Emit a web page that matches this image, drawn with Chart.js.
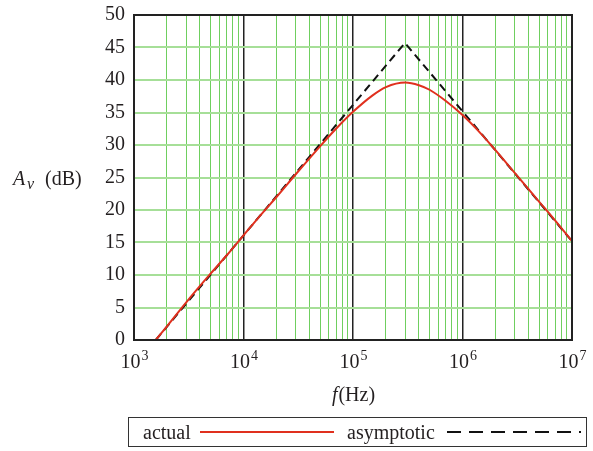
<!DOCTYPE html>
<html>
<head>
<meta charset="utf-8">
<script src="https://cdn.jsdelivr.net/npm/chart.js@4.4.1/dist/chart.umd.min.js"></script>
<style>
  body { margin: 0; background: #fff; }
  #wrap { position: relative; width: 593px; height: 451px; }
  #legend {
    position: absolute; left: 128px; top: 417px; width: 459px; height: 30px;
    border: 1px solid #333; box-sizing: border-box;
    font-family: 'Liberation Serif', 'Times New Roman', serif; font-size: 20px; color: #231f20;
  }
  #legend span, #legend svg { position: absolute; }
</style>
</head>
<body>
<div id="wrap">
  <canvas id="myChart" width="593" height="451"></canvas>
  <div id="legend">
    <span style="left:14px; top:3px;">actual</span>
    <svg style="left:71px; top:0;" width="134" height="28"><line x1="0" y1="14" x2="134" y2="14" stroke="#e0301e" stroke-width="2"/></svg>
    <span style="left:218px; top:3px;">asymptotic</span>
    <svg style="left:318px; top:0;" width="134" height="28"><line x1="0" y1="14" x2="134" y2="14" stroke="#111" stroke-width="2" stroke-dasharray="14 8"/></svg>
  </div>
</div>
<script>
(() => {
    'use strict'

    // measured gain (dB) vs frequency (Hz)
    const actualF = [1.58e3, 2e3, 3e3, 5e3, 7e3, 1e4, 1.5e4, 2e4, 3e4, 5e4, 7e4, 1e5, 1.5e5, 2e5, 3e5,
                     4e5, 5e5, 7e5, 1e6, 1.5e6, 2e6, 3e6, 5e6, 7e6, 1e7];
    const actualDb = [0, 2.1, 5.8, 10.2, 13.0, 16.1, 19.6, 22.0, 25.5, 29.8, 32.5, 35.1, 37.6, 38.9, 39.6,
                      39.2, 38.5, 36.8, 34.6, 31.6, 29.2, 25.7, 21.3, 18.4, 15.2];

    // straight-line approximation
    const asymF = [1.58e3, 2.98e5, 1e7];
    const asymDb = [0, 45.7, 15.2];

    const xTickExps = [3, 4, 5, 6, 7];
    const yMin = 0, yMax = 50, yStep = 5;

    const serif = "'Liberation Serif', 'Times New Roman', serif";
    const textColor = '#231f20';

    const pts = (xs, ys) => xs.map((x, i) => ({ x: x, y: ys[i] }));

    // tick at every 1..9 x 10^n, decades drawn black
    const xGridTicks = [];
    for (let e = xTickExps[0]; e < xTickExps[xTickExps.length - 1]; e++) {
        for (let m = 1; m < 10; m++) xGridTicks.push({ value: m * Math.pow(10, e) });
    }
    xGridTicks.push({ value: Math.pow(10, xTickExps[xTickExps.length - 1]) });
    const isDecade = v => Math.abs(Math.log10(v) - Math.round(Math.log10(v))) < 1e-9;

    const extras = {
        id: 'extras',
        afterDraw(chart) {
            const c = chart.ctx;
            const a = chart.chartArea;
            const xs = chart.scales.x;
            c.save();
            // frame
            c.strokeStyle = '#222';
            c.lineWidth = 2;
            c.strokeRect(a.left, a.top, a.right - a.left, a.bottom - a.top);

            c.fillStyle = textColor;
            c.textBaseline = 'alphabetic';
            // x tick labels 10^n
            xTickExps.forEach(e => {
                const px = xs.getPixelForValue(Math.pow(10, e));
                c.font = '20px ' + serif;
                const wb = c.measureText('10').width;
                c.font = '14px ' + serif;
                const we = c.measureText(String(e)).width;
                const x0 = px - (wb + we) / 2;
                c.font = '20px ' + serif;
                c.textAlign = 'left';
                c.fillText('10', x0, 368);
                c.font = '14px ' + serif;
                c.fillText(String(e), x0 + wb + 1, 360);
            });

            // y title: A_v (dB)
            c.textAlign = 'left';
            c.font = 'italic 20px ' + serif;
            c.fillText('A', 13, 185);
            c.font = 'italic 16px ' + serif;
            c.fillText('v', 27, 189);
            c.font = '20px ' + serif;
            c.fillText('(dB)', 45, 185);

            // x title: f(Hz)
            c.font = 'italic 20px ' + serif;
            const wf = c.measureText('f').width;
            c.font = '20px ' + serif;
            const wh = c.measureText('(Hz)').width;
            const cx = (a.left + a.right) / 2 - (wf + wh) / 2;
            c.font = 'italic 20px ' + serif;
            c.fillText('f', cx, 401);
            c.font = '20px ' + serif;
            c.fillText('(Hz)', cx + wf + 1, 401);
            c.restore();
        }
    };

    const ctx = document.getElementById('myChart');
    // eslint-disable-next-line no-unused-vars
    const myChart = new Chart(ctx, {
        type: 'line',
        data: {
            datasets: [{
                label: 'actual',
                data: pts(actualF, actualDb),
                borderColor: '#e0301e',
                borderWidth: 2,
                pointRadius: 0,
                cubicInterpolationMode: 'monotone',
                fill: false
            }, {
                label: 'asymptotic',
                data: pts(asymF, asymDb),
                borderColor: '#111',
                borderWidth: 2,
                borderDash: [8, 5],
                pointRadius: 0,
                tension: 0,
                fill: false
            }]
        },
        options: {
            responsive: false,
            animation: false,
            layout: { padding: { top: 15, right: 21, left: 0, bottom: 0 } },
            plugins: {
                legend: { display: false },
                tooltip: { enabled: false }
            },
            scales: {
                x: {
                    type: 'logarithmic',
                    min: Math.pow(10, xTickExps[0]),
                    max: Math.pow(10, xTickExps[xTickExps.length - 1]),
                    afterBuildTicks: scale => { scale.ticks = xGridTicks.map(t => ({ value: t.value })); },
                    afterFit: scale => { scale.height = 111; scale.paddingLeft = 0; scale.paddingRight = 0; },
                    ticks: { display: false },
                    border: { display: false },
                    grid: {
                        drawTicks: false,
                        color: c => isDecade(c.tick.value) ? '#222' : '#6fcf5f',
                        lineWidth: c => isDecade(c.tick.value) ? 1.5 : 1
                    }
                },
                y: {
                    min: yMin,
                    max: yMax,
                    afterFit: scale => { scale.width = 134; scale.paddingTop = 0; scale.paddingBottom = 0; },
                    ticks: {
                        stepSize: yStep,
                        padding: 9,
                        color: textColor,
                        font: { family: serif, size: 20 }
                    },
                    border: { display: false },
                    grid: {
                        drawTicks: false,
                        color: '#a6df98',
                        lineWidth: 2
                    }
                }
            }
        },
        plugins: [extras]
    });
})()
</script>
</body>
</html>
